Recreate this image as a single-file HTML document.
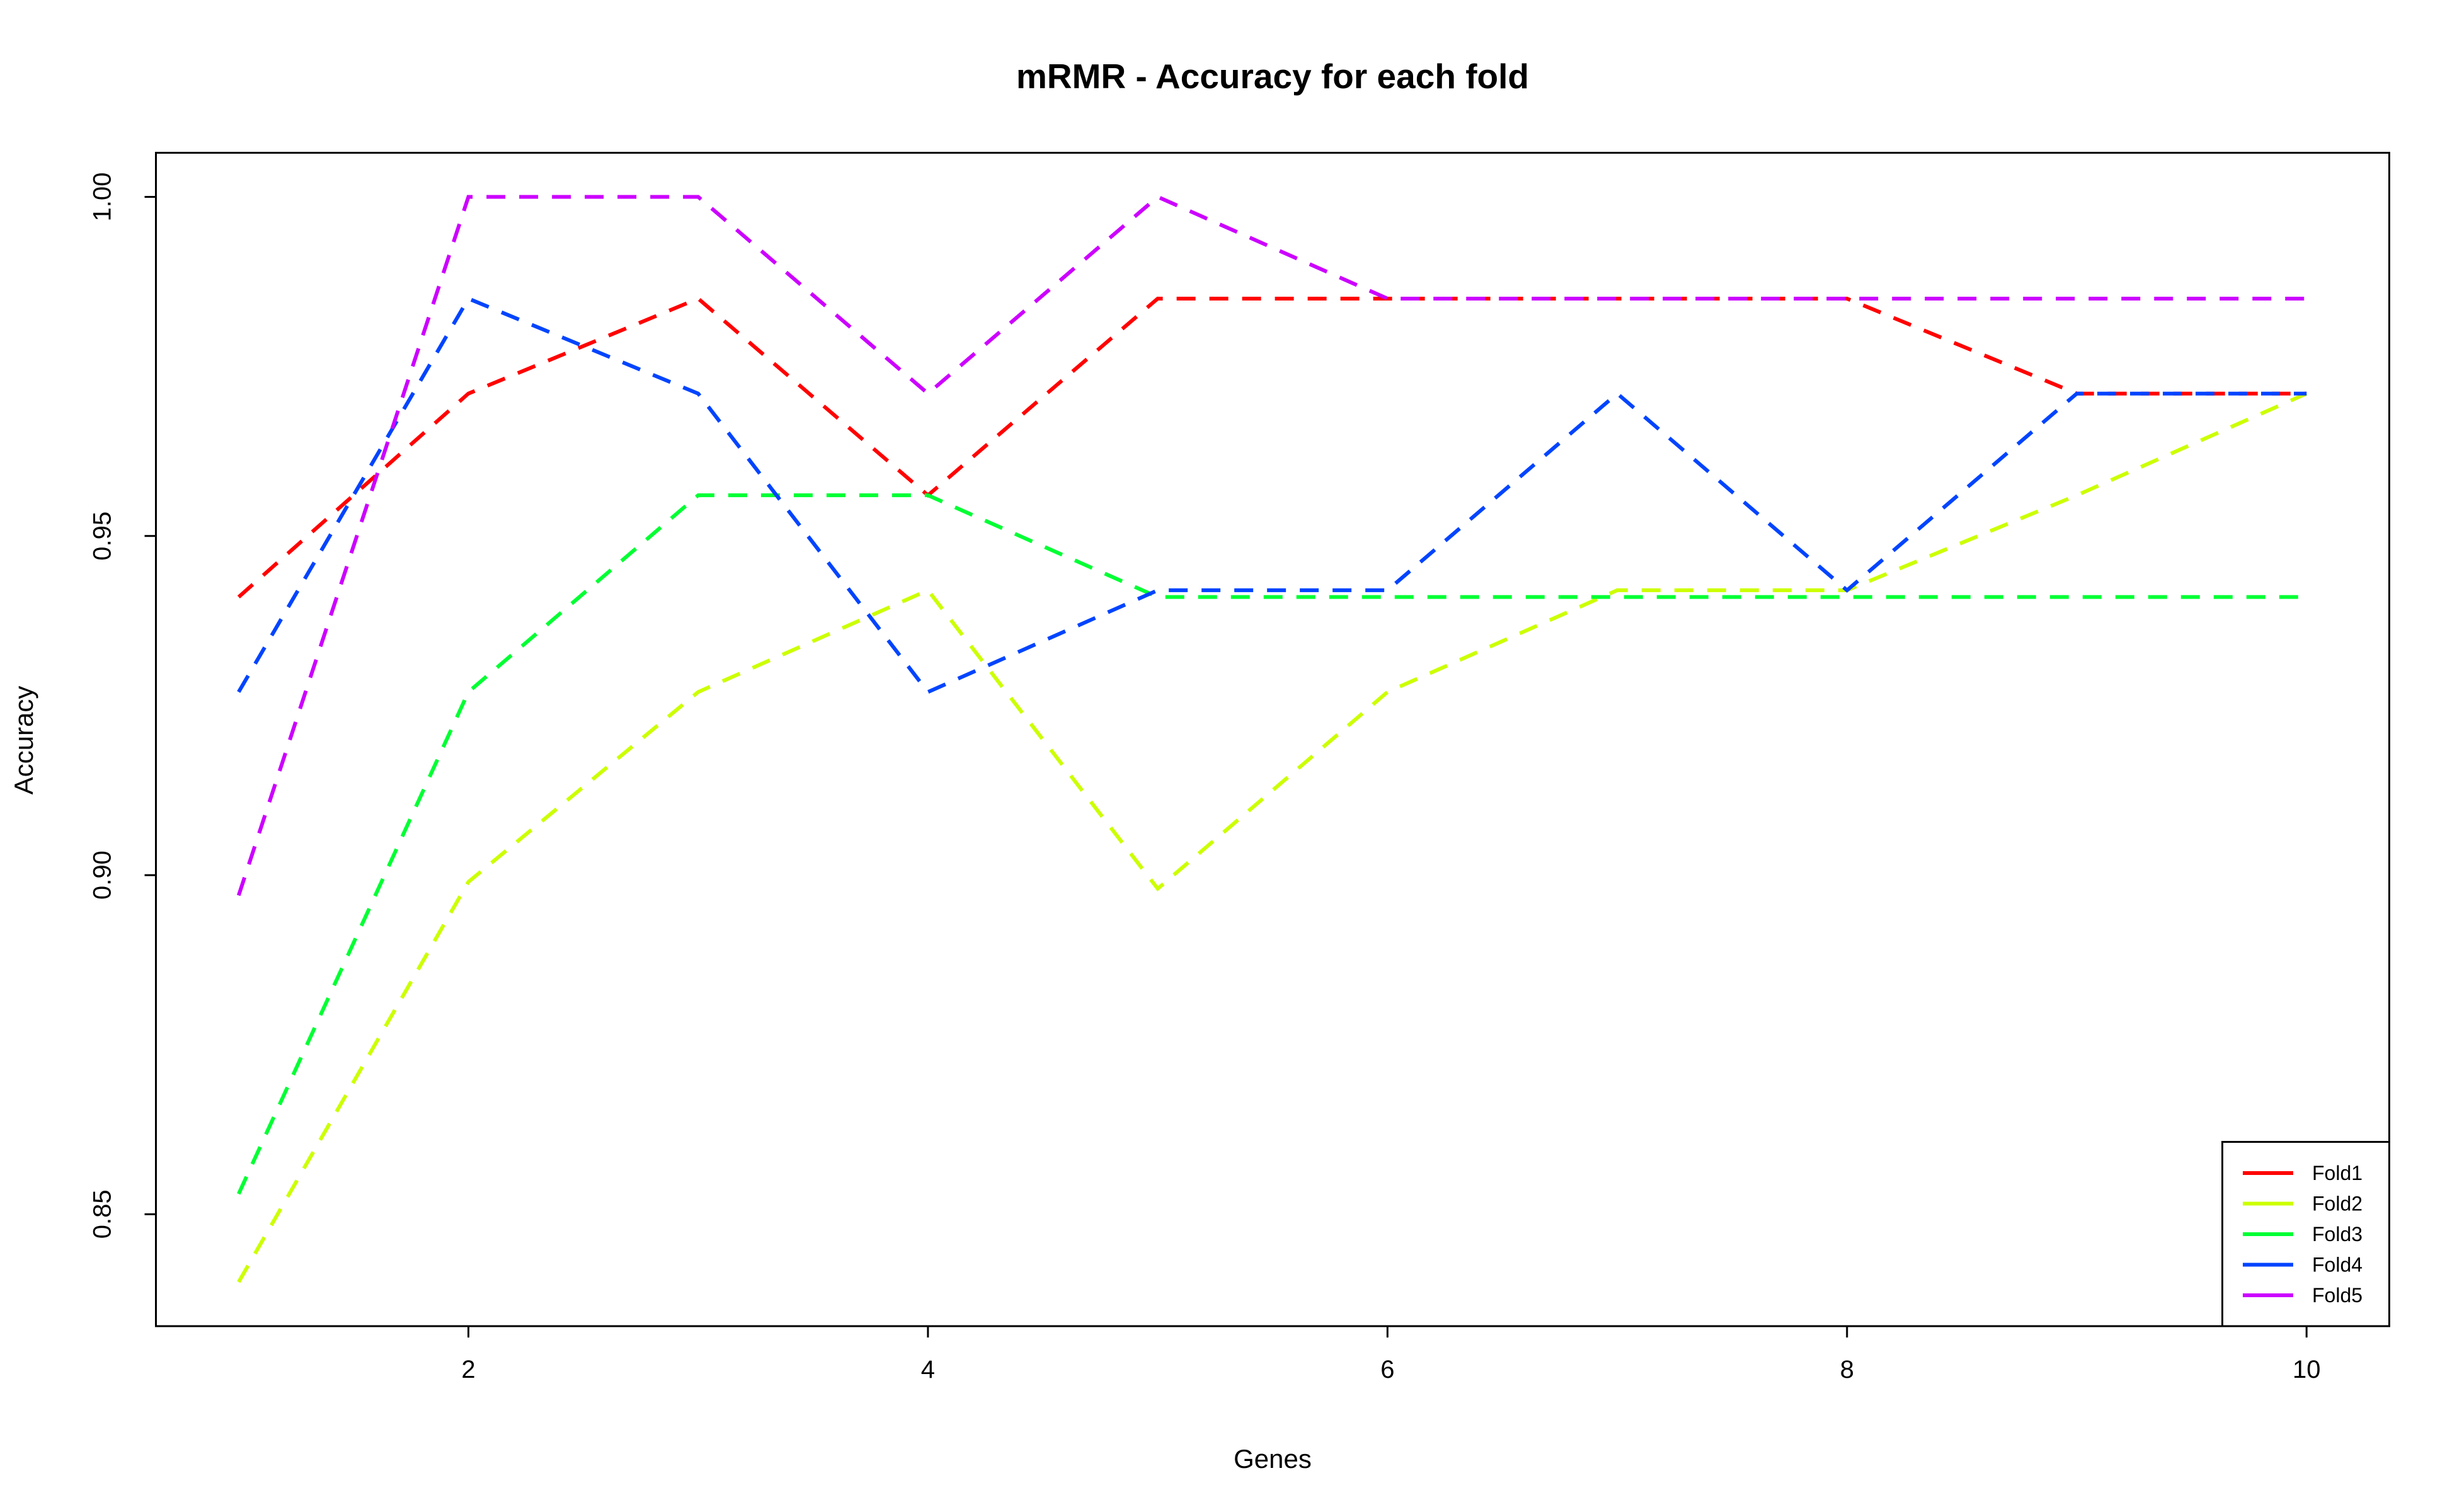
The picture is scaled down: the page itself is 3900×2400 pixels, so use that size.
<!DOCTYPE html>
<html><head><meta charset="utf-8"><style>
html,body{margin:0;padding:0;background:#fff;}
svg{display:block;font-family:"Liberation Sans",Arial,sans-serif;}
</style></head><body>
<svg id="chart" width="3900" height="2400" viewBox="0 0 3900 2400" xmlns="http://www.w3.org/2000/svg">
<rect width="3900" height="2400" fill="#fff"/>
<text x="2020" y="140" font-size="55" font-weight="bold" text-anchor="middle">mRMR - Accuracy for each fold</text>
<rect x="247.5" y="242.5" width="3545" height="1862.5" fill="none" stroke="#000" stroke-width="3"/>
<g id="xaxis"></g>
<g id="yaxis"></g>
<g id="series"></g>
<text x="2020" y="2330" font-size="42" text-anchor="middle">Genes</text>
<text transform="translate(52,1175) rotate(-90)" font-size="42" text-anchor="middle">Accuracy</text>
<g id="legend"></g>
</svg>
<script>
const genes = [1,2,3,4,5,6,7,8,9,10];
const fold1 = [0.941,0.971,0.985,0.956,0.985,0.985,0.985,0.985,0.971,0.971];
const fold2 = [0.840,0.899,0.927,0.942,0.898,0.927,0.942,0.942,0.956,0.971];
const fold3 = [0.853,0.927,0.956,0.956,0.941,0.941,0.941,0.941,0.941,0.941];
const fold4 = [0.927,0.985,0.971,0.927,0.942,0.942,0.971,0.942,0.971,0.971];
const fold5 = [0.897,1.0,1.0,0.971,1.0,0.985,0.985,0.985,0.985,0.985];
const seriesNames = ["Fold1","Fold2","Fold3","Fold4","Fold5"];
const xTicks = [2,4,6,8,10];
const yTicks = [0.85,0.90,0.95,1.00];
const yTickLabels = ["0.85","0.90","0.95","1.00"];

const colors = ["#ff0000","#ccff00","#00ff33","#0044ff","#cc00ff"];
const allSeries = [fold1,fold2,fold3,fold4,fold5];
const NS="http://www.w3.org/2000/svg";
const L=247.5,R=3792.5,T=242.5,B=2105;
const xMin=0.64,xMax=10.36,yMin=0.8335,yMax=1.0065;
const xs=v=>L+(v-xMin)/(xMax-xMin)*(R-L);
const ys=v=>B-(v-yMin)/(yMax-yMin)*(B-T);
function mk(tag,attrs,parent){const e=document.createElementNS(NS,tag);for(const k in attrs)e.setAttribute(k,attrs[k]);parent.appendChild(e);return e;}

const xg=document.getElementById('xaxis');
mk('line',{x1:xs(xTicks[0]),x2:xs(xTicks[xTicks.length-1]),y1:B,y2:B,stroke:'#000','stroke-width':3},xg);
xTicks.forEach(t=>{
  const l=mk('line',{x1:xs(t),x2:xs(t),y1:B,y2:B+18,stroke:'#000','stroke-width':3},xg);
  
  
  const tx=mk('text',{x:xs(t),y:B+82,'font-size':40,'text-anchor':'middle'},xg);
  tx.textContent=t;
  
  
});
const yg=document.getElementById('yaxis');
yTicks.forEach((t,i)=>{
  const l=mk('line',{x1:L-18,x2:L,y1:ys(t),y2:ys(t),stroke:'#000','stroke-width':3},yg);
  
  
  const tx=mk('text',{transform:`translate(${L-72},${ys(t)}) rotate(-90)`,'font-size':40,'text-anchor':'middle'},yg);
  tx.textContent=yTickLabels[i];
  
  
});

const sg=document.getElementById('series');
allSeries.forEach((s,i)=>{
  const pts=s.map((v,j)=>xs(genes[j])+','+ys(v)).join(' ');
  const p=mk('polyline',{points:pts,fill:'none',stroke:colors[i],'stroke-width':6,'stroke-dasharray':'30 22'},sg);
  
  
});

const lg=document.getElementById('legend');
const box=mk('rect',{x:3527.5,y:1812.5,width:265,height:292.5,fill:'#fff',stroke:'#000','stroke-width':3},lg);


seriesNames.forEach((n,i)=>{
  const y=1862+i*48.5;
  const g=mk('g',{},lg);
  
  
  mk('line',{x1:3560,x2:3640,y1:y,y2:y,stroke:colors[i],'stroke-width':6},g);
  const t=mk('text',{x:3670,y:y+11,'font-size':32},g);
  t.textContent=n;
});
</script>
</body></html>
